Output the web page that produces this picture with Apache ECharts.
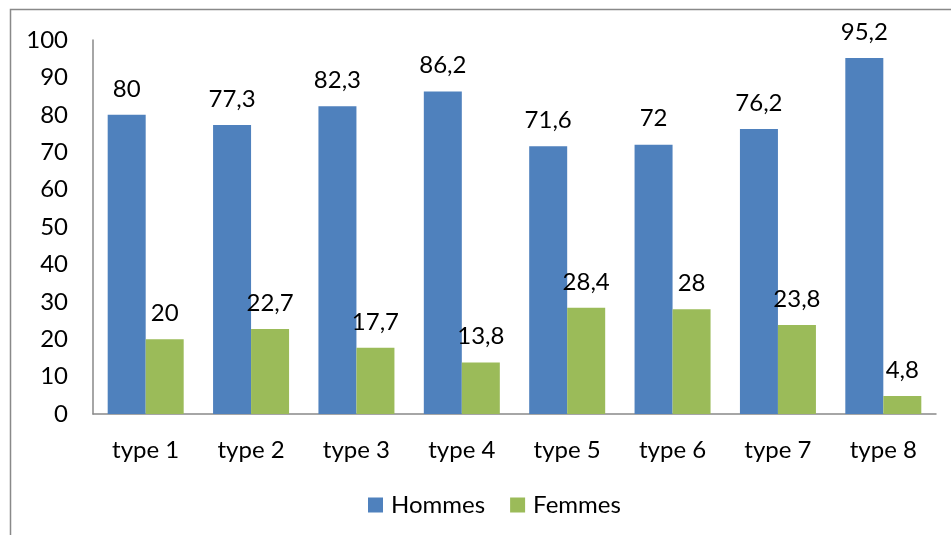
<!DOCTYPE html>
<html><head><meta charset="utf-8">
<script src="https://cdn.jsdelivr.net/npm/echarts@6/dist/echarts.min.js"></script>
<style>html,body{margin:0;padding:0;background:#fff}#c{width:951px;height:535px}</style>
</head><body><div id="c"></div>
<script>
var categories = ['type 1','type 2','type 3','type 4','type 5','type 6','type 7','type 8'];
var hommes = [80, 77.3, 82.3, 86.2, 71.6, 72, 76.2, 95.2];
var femmes = [20, 22.7, 17.7, 13.8, 28.4, 28, 23.8, 4.8];
var font = 'Lato, "Open Sans", sans-serif';
var chart = echarts.init(document.getElementById('c'));
var lbl = {show:true, position:'top', distance:14, color:'#000', fontSize:24, fontFamily:font,
  formatter:function(p){return String(p.value).replace('.', ',');}};
chart.setOption({
  animation:false,
  graphic:[{type:'rect', shape:{x:10.5,y:9.5,width:1200,height:1200}, style:{fill:'none', stroke:'#898989', lineWidth:1.5}}],
  grid:{left:93, right:15, top:40, bottom:121},
  legend:{bottom:13, left:363, itemWidth:15, itemHeight:15, itemGap:25, icon:'rect',
    textStyle:{fontSize:24, fontFamily:font, color:'#000', padding:[0,0,0,3]}, data:['Hommes','Femmes']},
  xAxis:{type:'category', data:categories, axisLine:{lineStyle:{color:'#898989', width:1.5}},
    axisTick:{show:false}, axisLabel:{fontSize:24, fontFamily:font, color:'#000', margin:24}},
  yAxis:{type:'value', min:0, max:100, interval:10, axisLine:{show:true, lineStyle:{color:'#898989', width:1.5}},
    splitLine:{show:false}, axisTick:{show:false}, axisLabel:{fontSize:24, fontFamily:font, color:'#000', margin:25}},
  series:[
    {name:'Hommes', type:'bar', data:hommes, barWidth:38, barGap:'0%', itemStyle:{color:'#4F81BD'}, label:lbl},
    {name:'Femmes', type:'bar', data:femmes, barWidth:38, barGap:'0%', itemStyle:{color:'#9BBB59'}, label:lbl}
  ]
});
</script></body></html>
